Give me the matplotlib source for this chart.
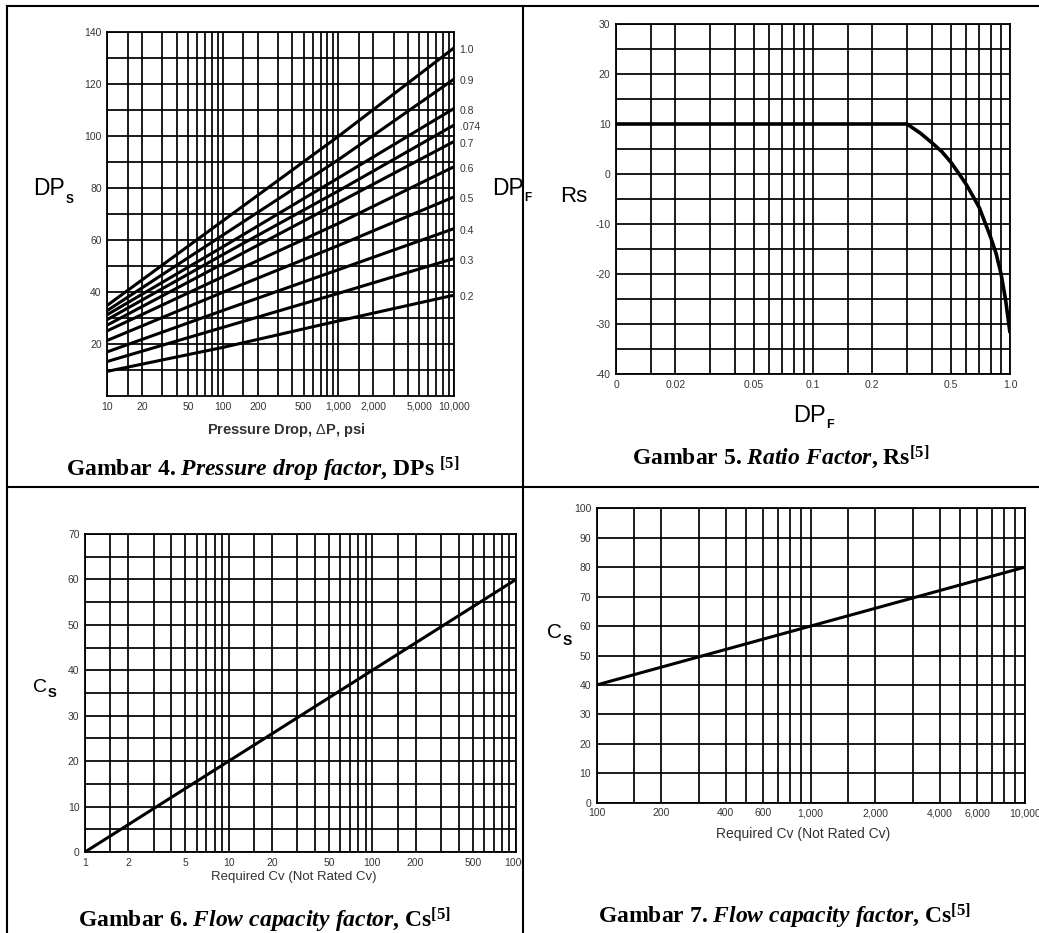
import matplotlib
matplotlib.use('Agg')
import matplotlib.pyplot as plt
from matplotlib.lines import Line2D
from matplotlib.ticker import FixedLocator, NullFormatter
from matplotlib.transforms import Bbox, TransformedBbox

plt.rcParams['font.family'] = 'Liberation Sans'
plt.rcParams['axes.unicode_minus'] = False
plt.rcParams['mathtext.fontset'] = 'custom'
plt.rcParams['mathtext.rm'] = 'Liberation Serif:bold'
plt.rcParams['mathtext.it'] = 'Liberation Serif:italic:bold'
plt.rcParams['mathtext.sf'] = 'Liberation Sans'

W, H = 1039, 933
TICK_COLOR = '#353535'

# --- Gambar 4: pressure drop factor DPs vs pressure drop, one line per DPF
dp_x = [10, 100, 1000, 10000]
dp_xticks = [10, 20, 50, 100, 200, 500, 1000, 2000, 5000, 10000]
dp_xticklabels = ['10', '20', '50', '100', '200', '500', '1,000', '2,000', '5,000', '10,000']
dpf_labels = ['1.0', '0.9', '0.8', '.074', '0.7', '0.6', '0.5', '0.4', '0.3', '0.2']
dps_1_0 = [35.0, 67.5, 100.0, 134.0]
dps_0_9 = [33.0, 62.0, 91.0, 122.0]
dps_0_8 = [31.4, 57.5, 84.0, 110.7]
dps_0_74 = [29.5, 54.5, 79.0, 104.3]
dps_0_7 = [27.4, 51.0, 74.5, 98.0]
dps_0_6 = [25.2, 46.0, 66.5, 88.3]
dps_0_5 = [21.5, 40.0, 58.0, 76.7]
dps_0_4 = [17.1, 33.0, 48.7, 64.5]
dps_0_3 = [13.4, 26.5, 39.6, 53.0]
dps_0_2 = [9.6, 18.8, 29.0, 38.9]
dps_curves = [dps_1_0, dps_0_9, dps_0_8, dps_0_74, dps_0_7,
              dps_0_6, dps_0_5, dps_0_4, dps_0_3, dps_0_2]

# --- Gambar 5: ratio factor Rs vs DPF
rs_x = [0.01, 0.3, 0.35, 0.4, 0.45, 0.5, 0.55, 0.6, 0.65, 0.7, 0.75, 0.8, 0.85, 0.9, 0.95, 1.0]
rs_y = [10, 10, 8.2, 6.3, 4.5, 2.4, 0.1, -2.1, -4.5, -6.8, -9.9, -12.8, -15.9, -19.9, -25.2, -31.8]
rs_xticks = [0.01, 0.02, 0.05, 0.1, 0.2, 0.5, 1.0]
rs_xticklabels = ['0', '0.02', '0.05', '0.1', '0.2', '0.5', '1.0']

# --- Gambar 6: Cs vs required Cv (small)
cs6_x = [1, 1000]
cs6_y = [0, 60]
cs6_xticks = [1, 2, 5, 10, 20, 50, 100, 200, 500, 1000]
cs6_xticklabels = ['1', '2', '5', '10', '20', '50', '100', '200', '500', '1000']

# --- Gambar 7: Cs vs required Cv (large)
cs7_x = [100, 10000]
cs7_y = [40, 80]
cs7_xticks = [100, 200, 400, 600, 1000, 2000, 4000, 6000, 10000]
cs7_xticklabels = ['100', '200', '400', '600', '1,000', '2,000', '4,000', '6,000', '10,000']


def box(l, t, r, b):
    return [l / W, 1 - b / H, (r - l) / W, (b - t) / H]


def px(x, y):
    return x / W, 1 - y / H


def log_grid(lo, hi):
    vals = []
    d = lo
    while d < hi * 0.999:
        vals += [d * m for m in (1, 1.5, 2, 3, 4, 5, 6, 7, 8, 9)]
        d *= 10
    vals.append(hi)
    return vals


def setup(ax, xlim, xticks, xlabels, ylim, ymajor, yminor):
    ax.set_xscale('log')
    ax.set_xlim(xlim)
    ax.set_ylim(ylim)
    ax.xaxis.set_major_locator(FixedLocator(xticks))
    ax.set_xticklabels(xlabels)
    ax.xaxis.set_minor_locator(FixedLocator(log_grid(*xlim)))
    ax.xaxis.set_minor_formatter(NullFormatter())
    ax.set_yticks(ymajor)
    ax.set_yticks(yminor, minor=True)
    ax.grid(which='both', color='black', lw=1.25)
    ax.tick_params(which='both', length=0, labelsize=7.5, labelcolor=TICK_COLOR, pad=4)
    for s in ax.spines.values():
        s.set_linewidth(1.3)
        s.set_color('black')
    ax.set_axisbelow(True)


fig = plt.figure(figsize=(W / 100, H / 100), dpi=100)
renderer = fig.canvas.get_renderer()


def sub_label(x, y, main, sub, size, subsize, subdy, weight='normal'):
    t = fig.text(*px(x, y), main, fontsize=size, fontweight=weight, va='baseline')
    bb = t.get_window_extent(renderer)
    fig.text((bb.x1 + 0.5) / W, 1 - (y + subdy) / H, sub, fontsize=subsize,
             fontweight='bold', va='baseline')


# table borders
for (x0, y0, x1, y1) in [(7, 6, 1039, 6), (7, 6, 7, 933), (523, 6, 523, 933), (7, 487, 1039, 487)]:
    fig.add_artist(Line2D([x0 / W, x1 / W], [1 - y0 / H, 1 - y1 / H], color='black', lw=1.5))

cap_kw = dict(family='Liberation Serif', fontweight='bold', fontsize=17, ha='center', va='baseline')

# Gambar 4
ax1 = fig.add_axes(box(107.3, 32.3, 454, 396.3))
setup(ax1, (10, 10000), dp_xticks, dp_xticklabels, (0, 140),
      list(range(20, 141, 20)), list(range(10, 140, 20)))
for lab, vals in zip(dpf_labels, dps_curves):
    ax1.plot(dp_x, vals, color='black', lw=2.2, solid_capstyle='butt')
    ax1.annotate(lab, xy=(dp_x[-1], vals[-1]), xytext=(4, -1.5), textcoords='offset points',
                 va='center', ha='left', fontsize=7.5, color=TICK_COLOR, annotation_clip=False)
sub_label(33, 195, 'DP', 'S', 16.5, 8.5, 8)
sub_label(492, 195, 'DP', 'F', 16.5, 8.5, 6)
fig.text(*px(286, 434), r'Pressure Drop, $\mathsf{\Delta}$P, psi', fontsize=10.5,
         fontweight='bold', color='#333333', ha='center', va='baseline')
fig.text(*px(263, 476), r'Gambar 4. $\mathit{Pressure\ drop\ factor}$, DPs $^{[5]}$', **cap_kw)

# Gambar 5
ax2 = fig.add_axes(box(616, 24, 1010, 374))
setup(ax2, (0.01, 1.0), rs_xticks, rs_xticklabels, (-40, 30),
      list(range(-40, 31, 10)), list(range(-35, 30, 10)))
ax2.plot(rs_x, rs_y, color='black', lw=2.6, solid_capstyle='butt')
fig.text(*px(560.5, 201.7), 'Rs', fontsize=16, va='baseline')
sub_label(793, 421.7, 'DP', 'F', 17, 9, 6.5)
fig.text(*px(781, 464), r'Gambar 5. $\mathit{Ratio\ Factor}$, Rs$^{[5]}$', **cap_kw)

# Gambar 6
ax3 = fig.add_axes(box(85, 534, 516, 852))
setup(ax3, (1, 1000), cs6_xticks, cs6_xticklabels, (0, 70),
      list(range(0, 71, 10)), list(range(5, 70, 10)))
ax3.plot(cs6_x, cs6_y, color='black', lw=2.2)
sub_label(33, 691.7, 'C', 'S', 14, 9.5, 5)
fig.text(*px(294, 880), 'Required Cv (Not Rated Cv)', fontsize=9.5, color='#333333',
         ha='center', va='baseline')
fig.text(*px(265, 927), r'Gambar 6. $\mathit{Flow\ capacity\ factor}$, Cs$^{[5]}$', **cap_kw)

# Gambar 7
ax4 = fig.add_axes(box(596.7, 508.3, 1024.7, 802.7))
setup(ax4, (100, 10000), cs7_xticks, cs7_xticklabels, (0, 100),
      list(range(0, 101, 10)), [])
ax4.plot(cs7_x, cs7_y, color='black', lw=2.2)
sub_label(547, 638.3, 'C', 'S', 15, 10, 6.5)
fig.text(*px(803, 838), 'Required Cv (Not Rated Cv)', fontsize=10, color='#333333',
         ha='center', va='baseline')
fig.text(*px(785, 923), r'Gambar 7. $\mathit{Flow\ capacity\ factor}$, Cs$^{[5]}$', **cap_kw)

# the left-bottom chart is cut off by the table divider
fig.canvas.draw()
left_cell = TransformedBbox(Bbox.from_extents(0, 0, 522 / W, 1), fig.transFigure)
for lbl in ax3.get_xticklabels():
    lbl.set_clip_box(left_cell)
    lbl.set_clip_on(True)

fig.savefig('out.png', dpi=100)
